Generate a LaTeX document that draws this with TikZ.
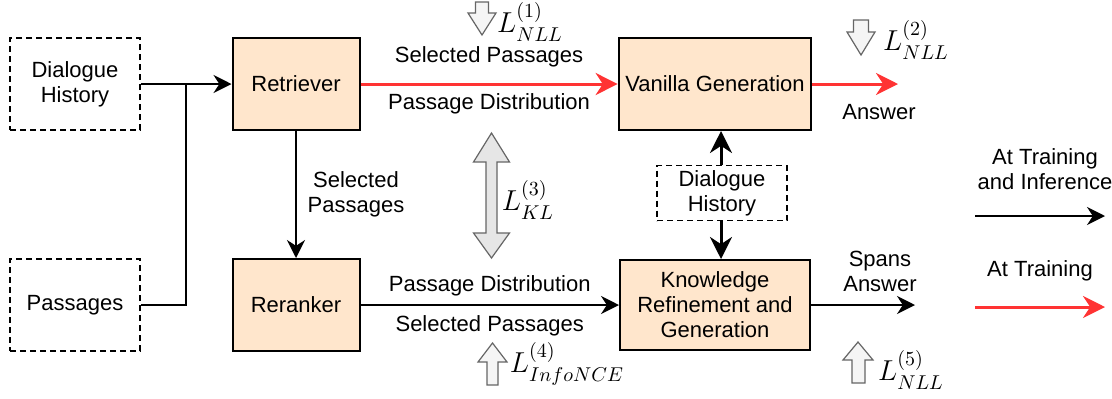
\documentclass[tikz,border=0pt]{standalone}
\usepackage{amsmath}
\usepackage[no-math]{fontspec}
\setmainfont{Liberation Sans}
\usetikzlibrary{arrows.meta}
\definecolor{peach}{HTML}{FFE6CC}
\definecolor{trainred}{HTML}{FF3333}
\definecolor{lossgray}{HTML}{F5F5F5}
\definecolor{klgray}{HTML}{E6E6E6}

\tikzset{
  mainbox/.style={draw, line width=1pt, fill=peach, minimum width=63.5pt, minimum height=46pt, align=center},
  inbox/.style={draw, line width=0.75pt, dash pattern=on 3pt off 2pt, minimum width=65pt, minimum height=46pt, align=center},
  blk/.style={line width=1pt, -{Stealth[length=9pt,width=9pt]}},
  redarr/.style={line width=1.5pt, trainred, -{Stealth[length=11pt,width=11pt]}},
  thickarr/.style={line width=1.5pt, -{Stealth[length=11pt,width=11pt]}},
  lossarrow/.style={draw=black!60, line width=0.6pt, fill=lossgray, line join=miter},
  losslabel/.style={font=\fontsize{14}{16}\selectfont}
}

\begin{document}
\begin{tikzpicture}[x=0.5pt, y=-0.5pt, font=\fontsize{11}{12.5}\selectfont]
  \useasboundingbox (0,0) rectangle (1112,398);

  % inputs
  \node[inbox] (hist) at (75,84) {Dialogue\\History};
  \node[inbox] (psg) at (75,305) {Passages};

  % main blocks
  \node[mainbox] (ret) at (296,84) {Retriever};
  \node[mainbox] (rer) at (296,305) {Reranker};
  \node[mainbox, minimum width=95pt] (van) at (715,84) {Vanilla Generation};
  \node[mainbox, minimum width=95pt, minimum height=45pt] (krg) at (715,305) {Knowledge\\Refinement and\\Generation};
  \node[inbox, minimum height=27.5pt, inner sep=1pt] (hist2) at (722,193) {Dialogue\\History};

  % connectors
  \coordinate (join) at (186,84);
  \draw[blk] (hist) -- (ret);
  \draw[line width=1pt] (psg.east) -| (join);
  \draw[blk] (ret) -- (rer) node[midway, right=2pt, align=center] {Selected\\Passages};
  \draw[redarr] (ret) -- (van)
    node[midway, yshift=13.5pt, text=black] {Selected Passages}
    node[midway, yshift=-10pt, text=black] {Passage Distribution};
  \draw[blk] (rer) -- (krg)
    node[midway, yshift=9.5pt] {Passage Distribution}
    node[midway, yshift=-10.5pt] {Selected Passages};
  \draw[thickarr] (hist2.north -| 721,0) -- (van.south -| 721,0);
  \draw[thickarr] (hist2.south -| 721,0) -- (krg.north -| 721,0);

  % outputs
  \coordinate (ansend) at (898,84);
  \coordinate (spanend) at (915,305);
  \draw[redarr] (van) -- (ansend);
  \draw[blk] (krg) -- (spanend);
  \node (ans) at (879,112) {Answer};
  \node[align=center] (spans) at (880,271) {Spans\\Answer};

  % losses
  \draw[lossarrow] (475.5,2) -- (488.5,2) -- (488.5,13) -- (496,13) -- (482,35) -- (468,13) -- (475.5,13) -- cycle;
  \node[losslabel] (l1) at (530,22) {$L^{(1)}_{NLL}$};
  \draw[lossarrow] (853.5,20) -- (868.5,20) -- (868.5,32) -- (875,32) -- (861,55) -- (847,32) -- (853.5,32) -- cycle;
  \node[losslabel] (l2) at (916,40) {$L^{(2)}_{NLL}$};
  \draw[lossarrow, fill=klgray] (491.5,133) -- (509.5,162) -- (497,162) -- (497,233) -- (509.5,233) -- (491.5,258)
    -- (473.5,233) -- (486,233) -- (486,162) -- (473.5,162) -- cycle;
  \node[losslabel] (l3) at (528,200) {$L^{(3)}_{KL}$};
  \draw[lossarrow] (492.5,343) -- (507,362) -- (498,362) -- (498,385) -- (487,385) -- (487,362) -- (478,362) -- cycle;
  \node[losslabel] (l4) at (567,364) {$L^{(4)}_{InfoNCE}$};
  \draw[lossarrow] (858,342) -- (873,360) -- (865,360) -- (865,383) -- (852,383) -- (852,360) -- (843,360) -- cycle;
  \node[losslabel] (l5) at (911,370) {$L^{(5)}_{NLL}$};

  % legend
  \node[align=center] (leg1) at (1045,169) {At Training\\and Inference};
  \coordinate (leg1a) at (975,216);
  \coordinate (leg1b) at (1105,216);
  \draw[blk] (leg1a) -- (leg1b);
  \node (leg2) at (1040,271) {At Training};
  \coordinate (leg2a) at (975,307);
  \coordinate (leg2b) at (1105,307);
  \draw[redarr] (leg2a) -- (leg2b);
\end{tikzpicture}
\end{document}
